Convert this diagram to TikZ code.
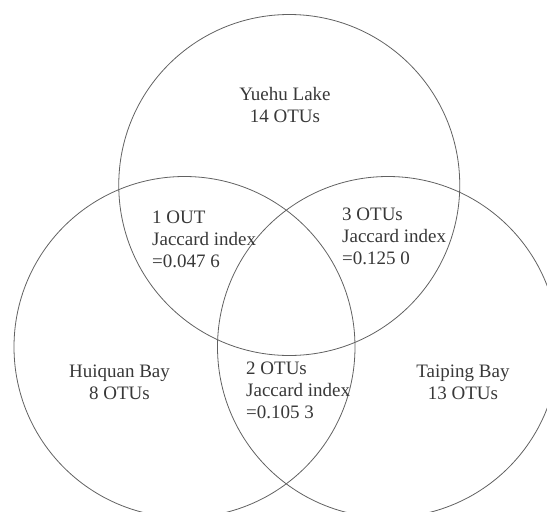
\documentclass[tikz,border=0pt]{standalone}
\usepackage{fontspec}
\setmainfont{Liberation Serif}
\usetikzlibrary{calc,positioning}

\begin{document}
\begin{tikzpicture}[x=1pt,y=-1pt,
		set/.style={circle,draw=black!62,line width=0.8pt,minimum size=341pt,inner sep=0pt},
		lbl/.style={align=center,text=black!78,inner sep=0pt,font=\fontsize{19}{22}\selectfont},
		jac/.style={lbl,align=left,anchor=west}]
		\useasboundingbox (0,0) rectangle (547,512);
		\coordinate (cl) at (184.5,347);
		\coordinate (cr) at (388,347);
		\coordinate (ct) at ($(cl)!0.5!(cr)+(3,-162)$);
		%
		\node[set] (huiquan) at (cl) {};
		\node[set] (taiping) at (cr) {};
		\node[set] (yuehu) at (ct) {};
		%
		\node[lbl] (yuehu-txt) at (285,105) {Yuehu Lake\\14 OTUs};
		\node[lbl] (huiquan-txt) at (119.5,382.5) {Huiquan Bay\\8 OTUs};
		\node[lbl] (taiping-txt) at (463,382.5) {Taiping Bay\\13 OTUs};
		\node[jac] (yh) at (152,239) {1 OUT\\Jaccard index\\=0.047 6};
		\node[jac] (yt) at (342,236) {3 OTUs\\Jaccard index\\=0.125 0};
		\node[jac] (ht) at (246,390) {2 OTUs\\Jaccard index\\=0.105 3};
	\end{tikzpicture}
\end{document}
